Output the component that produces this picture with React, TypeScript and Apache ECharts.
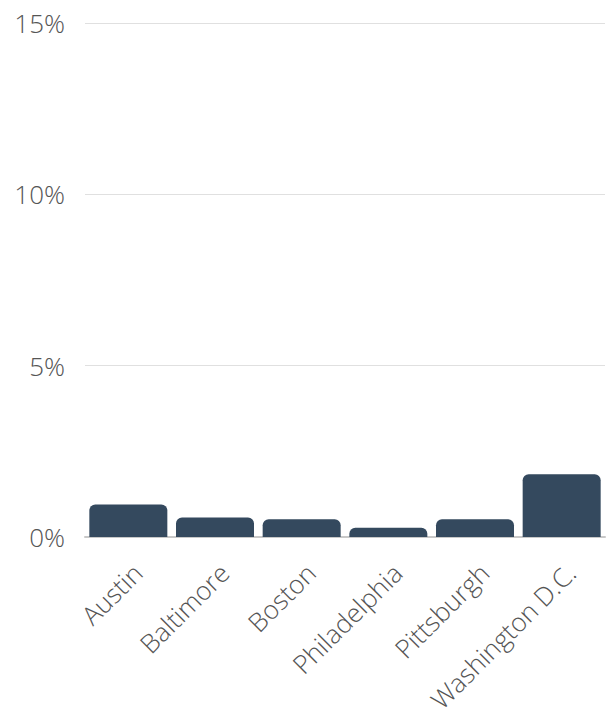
import React, { useEffect, useRef } from "react";
import * as echarts from "echarts";

const categories = ["Austin", "Baltimore", "Boston", "Philadelphia", "Pittsburgh", "Washington D.C."];
const values = [0.95, 0.57, 0.52, 0.27, 0.52, 1.83];
const yTicks = [0, 5, 10, 15];

export default function App() {
  const ref = useRef<HTMLDivElement>(null);
  useEffect(() => {
    if (!ref.current) return;
    const chart = echarts.init(ref.current, null, { renderer: "svg" });
    chart.setOption({
      animation: false,
      backgroundColor: "#ffffff",
      grid: { left: 85, right: 5, top: 23, bottom: 179, containLabel: false },
      xAxis: {
        type: "category",
        data: categories,
        axisLine: { show: true, lineStyle: { color: "#c8c8c8", width: 2 } },
        axisTick: { show: false },
        axisLabel: {
          rotate: 45,
          margin: 22,
          verticalAlign: "top",
          fontFamily: "Open Sans",
          fontWeight: 300,
          fontSize: 26,
          color: "#555555",
          interval: 0,
        },
      },
      yAxis: {
        type: "value",
        min: yTicks[0],
        max: yTicks[yTicks.length - 1],
        interval: 5,
        axisLine: { show: false },
        axisTick: { show: false },
        splitLine: { lineStyle: { color: "#e0e0e0", width: 1 } },
        axisLabel: {
          margin: 20,
          formatter: "{value}%",
          fontFamily: "Open Sans",
          fontWeight: 300,
          fontSize: 26,
          color: "#555555",
        },
      },
      series: [
        {
          type: "bar",
          data: values,
          barWidth: 78,
          itemStyle: { color: "#34495e", borderRadius: [6, 6, 0, 0] },
        },
      ],
    });
    return () => chart.dispose();
  }, []);
  return (
    <div
      ref={ref}
      style={{ position: "fixed", left: 0, top: 0, width: 610, height: 716 }}
    />
  );
}
